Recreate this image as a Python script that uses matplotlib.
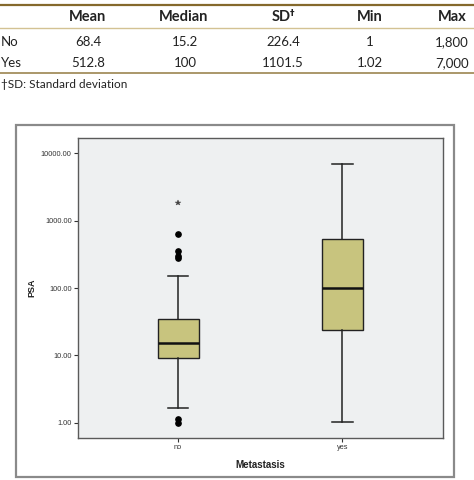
import matplotlib
matplotlib.use("Agg")
import matplotlib.pyplot as plt
from matplotlib.lines import Line2D
from matplotlib.patches import Rectangle

# ---- table data ----
table_cols = ["Mean", "Median", "SD", "Min", "Max"]
table_rows = ["No", "Yes"]
table_no = ["68.4", "15.2", "226.4", "1", "1,800"]
table_yes = ["512.8", "100", "1101.5", "1.02", "7,000"]
footnote = "\u2020SD: Standard deviation"

# ---- box plot data ----
groups = ["no", "yes"]
whisker_low = [1.64, 1.02]
q1 = [9.1, 23.5]
median = [15.2, 100]
q3 = [34.3, 534]
whisker_high = [152, 7000]
outliers_circle = [[1.0, 1.15, 276, 302, 358, 627], []]
outliers_star = [[1800], []]
yticks = [1, 10, 100, 1000, 10000]
ytick_labels = ["1.00", "10.00", "100.00", "1000.00", "10000.00"]

W, H = 474, 480
fig = plt.figure(figsize=(W / 100, H / 100), dpi=100)
fig.patch.set_facecolor("white")

def fy(py):
    return 1 - py / H

def fx(px):
    return px / W

# table lines
fig.add_artist(Line2D([0, 1], [fy(4.7), fy(4.7)], color="#85692c", lw=1.6))
fig.add_artist(Line2D([0, 1], [fy(28.3), fy(28.3)], color="#d3c293", lw=1.0))
fig.add_artist(Line2D([0, 1], [fy(72.7), fy(72.7)], color="#9c8550", lw=1.2))

col_x = [88, 184, 281, 370, 452]
tfont = "Lato"
for x, c in zip(col_x, table_cols):
    fig.text(fx(x), fy(17), c, ha="center", va="center", fontsize=10.5,
             fontweight="bold", family=tfont, color="#222222")
# superscript dagger after SD
fig.text(fx(col_x[2] + 9), fy(13), "\u2020", ha="left", va="center", fontsize=6.5,
         fontweight="bold", family="DejaVu Sans", color="#222222")
col_vx = [88, 185, 283, 370, 452]
for ry, lab, vals in [(42, table_rows[0], table_no), (63, table_rows[1], table_yes)]:
    fig.text(fx(1), fy(ry), lab, ha="left", va="center", fontsize=9.5,
             family=tfont, color="#222222")
    for x, v in zip(col_vx, vals):
        fig.text(fx(x), fy(ry), v, ha="center", va="center", fontsize=9.5,
                 family=tfont, color="#222222")
fig.text(fx(1), fy(84), footnote, ha="left", va="center", fontsize=8.5,
         family=tfont, color="#222222")

# outer panel border
fig.add_artist(Rectangle((fx(15.5), fy(476.5)), fx(454) - fx(15.5),
                         fy(125) - fy(476.5), transform=fig.transFigure,
                         fill=False, edgecolor="#8a8a8a", lw=1.6))

# axes
ax = fig.add_axes([fx(78), fy(437.7), fx(443) - fx(78), fy(137.7) - fy(437.7)])
ax.set_facecolor("#eef0f1")
for s in ax.spines.values():
    s.set_color("#5a5a5a")
    s.set_linewidth(1.0)

stats = []
for i, g in enumerate(groups):
    stats.append(dict(label=g, whislo=whisker_low[i], q1=q1[i], med=median[i],
                      q3=q3[i], whishi=whisker_high[i], fliers=[]))
positions = [1, 2]
ax.bxp(stats, positions=positions, widths=0.25, patch_artist=True,
       showfliers=False,
       boxprops=dict(facecolor="#c8c47e", edgecolor="#222222", linewidth=1.0),
       medianprops=dict(color="#111111", linewidth=1.8),
       whiskerprops=dict(color="#222222", linewidth=1.1),
       capprops=dict(color="#222222", linewidth=1.1),
       capwidths=0.125)

for p, oc, os_ in zip(positions, outliers_circle, outliers_star):
    if oc:
        ax.plot([p] * len(oc), oc, "o", color="black", markersize=3.8, zorder=5)
    if os_:
        ax.plot([p] * len(os_), os_, "*", color="#444444", markersize=4.0,
                zorder=5, markeredgewidth=0.3)

ax.set_yscale("log")
ax.set_ylim(0.599, 17050)
ax.set_xlim(0.391, 2.613)
ax.set_yticks(yticks)
ax.set_yticklabels(ytick_labels)
ax.yaxis.set_minor_locator(matplotlib.ticker.NullLocator())
ax.set_xticks(positions)
ax.set_xticklabels(groups)
ax.tick_params(axis="both", which="major", labelsize=5.3, length=3, width=0.8,
               color="#333333", labelcolor="#333333", pad=1.5)
for lab in ax.get_yticklabels() + ax.get_xticklabels():
    lab.set_family("Liberation Sans")

ax.set_ylabel("PSA", fontsize=6.5, fontweight="bold", family="Liberation Sans",
              labelpad=3, color="#222222")
ax.set_xlabel("Metastasis", fontsize=7, fontweight="bold", family="Liberation Sans",
              labelpad=6.5, color="#222222")

fig.savefig("out.png", dpi=100, facecolor="white")
